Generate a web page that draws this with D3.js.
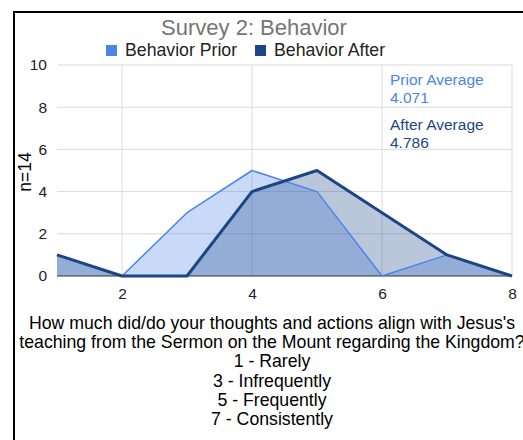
<!DOCTYPE html>
<html>
<head>
<meta charset="utf-8">
<script src="https://cdn.jsdelivr.net/npm/d3@7"></script>
<style>
  body { margin: 0; background: #fff; }
  svg text { font-family: "Liberation Sans", Arial, sans-serif; }
</style>
</head>
<body>
<div id="chart"></div>
<script>
// Survey answers 1..8, number of respondents per answer
const ratings = [1, 2, 3, 4, 5, 6, 7, 8];
const behaviorPrior = [1, 0, 3, 5, 4, 0, 1, 0];
const behaviorAfter = [1, 0, 0, 4, 5, 3, 1, 0];
const xTicks = [2, 4, 6, 8];
const yTicks = [0, 2, 4, 6, 8, 10];
const seriesNames = ['Behavior Prior', 'Behavior After'];
const averageNotes = [['Prior Average', '4.071'], ['After Average', '4.786']];
const questionLines = [
    "How much did/do your thoughts and actions align with Jesus's",
    "teaching from the Sermon on the Mount regarding the Kingdom?",
    '1 - Rarely',
    '3 - Infrequently',
    '5 - Frequently',
    '7 - Consistently'
];

const width = 523, height = 440;
const colors = ['#4a86e8', '#1c4587'];

const svg = d3.select('#chart')
    .append('svg')
    .attr('width', width)
    .attr('height', height);

// outer frame (cut off at right and bottom)
svg.append('path')
    .attr('d', `M14,${height + 2} L14,12 L${width + 2},12`)
    .attr('fill', 'none')
    .attr('stroke', '#000')
    .attr('stroke-width', 2);

const x = d3.scaleLinear().domain([1, 8]).range([57, 512]);
const y = d3.scaleLinear().domain([0, 10]).range([276, 65]);

// gridlines
svg.append('g')
    .selectAll('line')
    .data(yTicks.filter(d => d > 0))
    .enter()
    .append('line')
    .attr('x1', x(1)).attr('x2', x(8))
    .attr('y1', d => y(d)).attr('y2', d => y(d))
    .attr('stroke', '#d9d9d9');

svg.append('g')
    .selectAll('line')
    .data(xTicks)
    .enter()
    .append('line')
    .attr('x1', d => x(d)).attr('x2', d => x(d))
    .attr('y1', y(10)).attr('y2', y(0))
    .attr('stroke', '#d9d9d9');

const series = [behaviorPrior, behaviorAfter];

const area = d3.area()
    .x((d, i) => x(ratings[i]))
    .y0(y(0))
    .y1(d => y(d));

const line = d3.line()
    .x((d, i) => x(ratings[i]))
    .y(d => y(d));

series.forEach((s, k) => {
    svg.append('path')
        .attr('d', area(s))
        .attr('fill', colors[k])
        .attr('fill-opacity', 0.3);
});

// baseline
svg.append('line')
    .attr('x1', x(1)).attr('x2', x(8))
    .attr('y1', y(0)).attr('y2', y(0))
    .attr('stroke', '#333');

series.forEach((s, k) => {
    svg.append('path')
        .attr('d', line(s))
        .attr('fill', 'none')
        .attr('stroke', colors[k])
        .attr('stroke-width', k === 0 ? 1.5 : 3)
        .attr('stroke-linejoin', 'round');
});

// axes labels
const yAxis = d3.axisLeft(y).tickValues(yTicks).tickSize(0).tickPadding(10);
svg.append('g')
    .attr('transform', `translate(${x(1)},0)`)
    .call(yAxis)
    .call(g => g.select('.domain').remove())
    .selectAll('text')
    .style('font-size', '15.5px')
    .attr('fill', '#222');

const xAxis = d3.axisBottom(x).tickValues(xTicks).tickFormat(d3.format('d')).tickSize(0).tickPadding(12);
svg.append('g')
    .attr('transform', `translate(0,${y(0)})`)
    .call(xAxis)
    .call(g => g.select('.domain').remove())
    .selectAll('text')
    .style('font-size', '15.5px')
    .attr('fill', '#222');

// title
svg.append('text')
    .attr('x', 254)
    .attr('y', 35)
    .attr('text-anchor', 'middle')
    .style('font-size', '22px')
    .attr('fill', '#757575')
    .text('Survey 2: Behavior');

// legend
const legendX = [106, 255];
seriesNames.forEach((name, k) => {
    svg.append('rect')
        .attr('x', legendX[k]).attr('y', 45)
        .attr('width', 11).attr('height', 11)
        .attr('fill', colors[k]);
    svg.append('text')
        .attr('x', legendX[k] + 19)
        .attr('y', 56)
        .style('font-size', '17.7px')
        .attr('fill', '#222')
        .text(name);
});

// averages
averageNotes.forEach((note, k) => {
    note.forEach((t, j) => {
        svg.append('text')
            .attr('x', 390)
            .attr('y', 85 + k * 45 + j * 17.5)
            .style('font-size', '15.5px')
            .attr('fill', k === 0 ? colors[0] : '#1c4587')
            .text(t);
    });
});

// y axis title
svg.append('text')
    .attr('transform', 'translate(31,172) rotate(-90)')
    .attr('text-anchor', 'middle')
    .style('font-size', '17.5px')
    .attr('fill', '#000')
    .text('n=14');

// x axis title
questionLines.forEach((t, i) => {
    svg.append('text')
        .attr('x', 272)
        .attr('y', 329 + i * 19.2)
        .attr('text-anchor', 'middle')
        .style('font-size', '17.7px')
        .attr('fill', '#000')
        .text(t);
});
</script>
</body>
</html>
